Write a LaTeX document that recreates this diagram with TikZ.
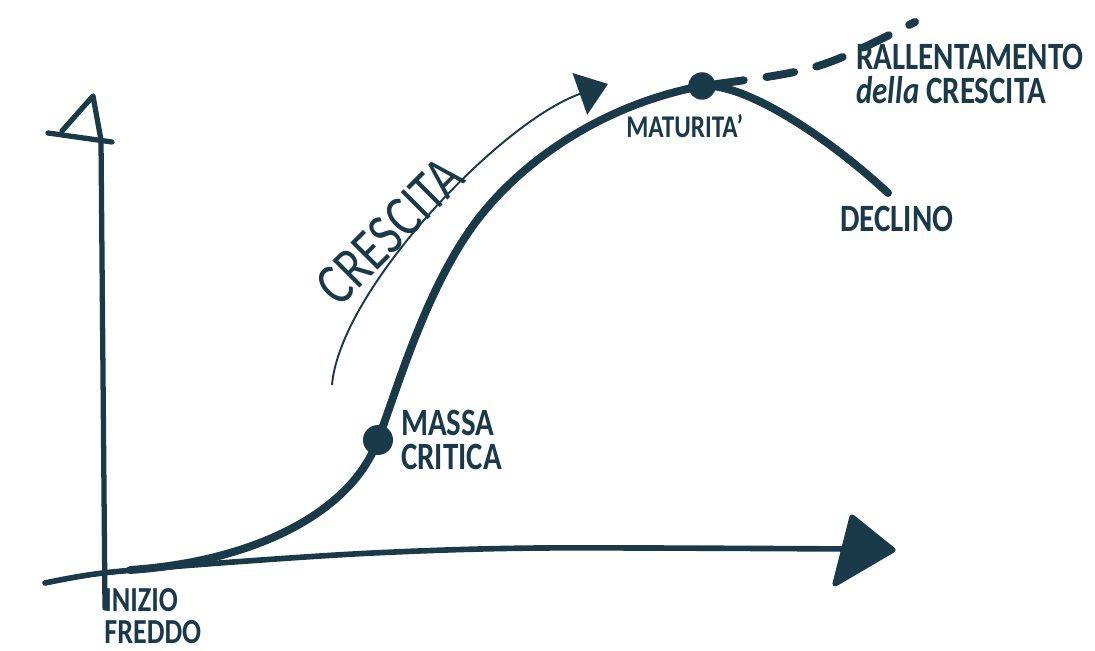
\documentclass[tikz,border=0pt]{standalone}
\usepackage{fontspec}
\setmainfont{Carlito}[FakeStretch=0.8]
\usetikzlibrary{arrows.meta, positioning}
\definecolor{ink}{HTML}{1A3A4A}

\begin{document}
\begin{tikzpicture}[x=0.02cm, y=-0.02cm,
    curve/.style={draw=ink, line width=4.5pt, line cap=round, line join=round},
    axis/.style={draw=ink, line width=3pt, line cap=round, line join=round},
    dot/.style={circle, fill=ink, minimum size=0.6cm, inner sep=0pt},
    lbl/.style={text=ink, inner sep=0pt, align=left, font=\bfseries\fontsize{22}{19}\selectfont},
    arrow/.style={-{Triangle[length=17pt, width=25pt]}, draw=ink, line width=1.1pt}]
\useasboundingbox (0,0) rectangle (1095,651);
\fill[white] (0,0) rectangle (1095,651);

% axes
\coordinate (xstart) at (45,583);
\coordinate (xend) at (850,549);
\coordinate (ybot) at (105,608);
\coordinate (ytop) at (93,96);
\draw[axis, line width=3.2pt] plot[smooth] coordinates {(xstart) (103,573) (220,563) (373,553) (540,548) (xend)};
\filldraw[ink, line width=3pt, line join=round] (852,517) -- (893,550) -- (835,584) -- cycle;
\draw[axis] (ybot) -- (101,140) -- (ytop) -- (62,131);
\draw[axis] (48,133) -- (112,142);

% life cycle
\node[dot] (massa) at (378,440) {};
\node[dot, minimum size=0.55cm] (maturita) at (702,86) {};
\coordinate (flex) at (470,230);
\coordinate (declEnd) at (888,193);
\draw[curve] (130,570) .. controls (250,562) and (350,515) .. (massa.center)
    .. controls (400,380) and (425,295) .. (flex)
    .. controls (515,165) and (600,105) .. (maturita.center)
    .. controls (740,82) and (820,130) .. (declEnd);
\draw[curve, dash pattern=on 16pt off 13pt] (maturita) .. controls (820,70) .. (915,22);

% growth arrow
\coordinate (crStart) at (332,385);
\coordinate (crEnd) at (608,84);
\draw[arrow] (crStart) .. controls (340,290) and (500,122) .. (crEnd);
\node[lbl, font=\fontsize{34}{34}\selectfont, rotate=45, anchor=base] (crescitaLbl) at (403,245) {CRESCITA};

% labels
\node[lbl, anchor=north west] (rallLbl) at (856,44) {RALLENTAMENTO\\{\itshape della} CRESCITA};
\node[lbl, font=\bfseries\fontsize{18}{18}\selectfont, anchor=north west] (matLbl) at (626,114) {MATURITA'};
\node[lbl, anchor=north west] (declLbl) at (840,206) {DECLINO};
\node[lbl, right=0.15cm of massa] (massaLbl) {MASSA\\CRITICA};
\node[lbl, font=\bfseries\fontsize{20}{18}\selectfont, anchor=north west] (inizioLbl) at (104,588) {INIZIO\\FREDDO};
\end{tikzpicture}
\end{document}
